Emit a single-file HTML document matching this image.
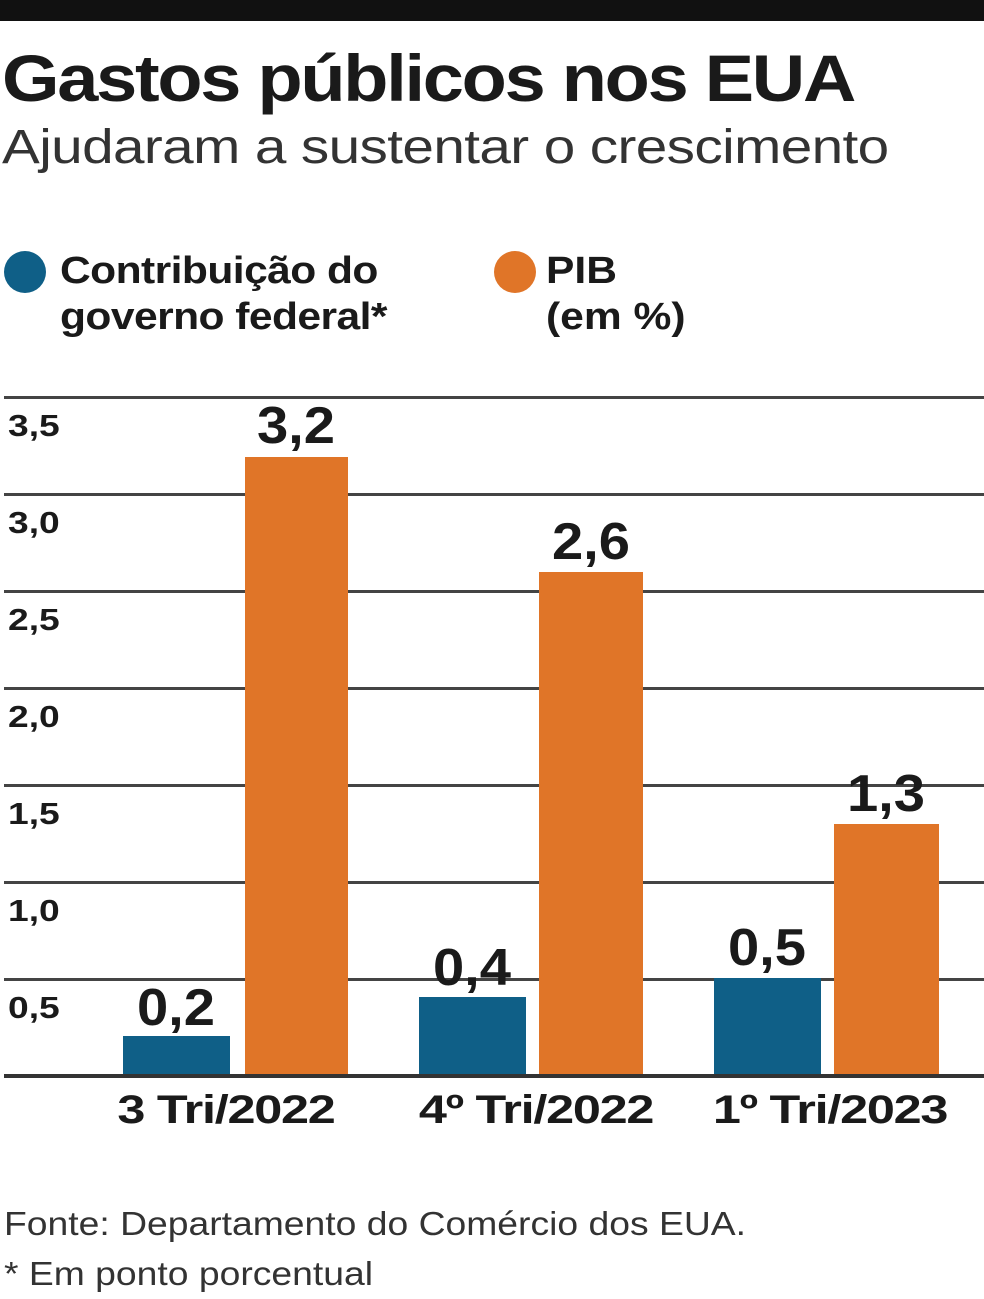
<!DOCTYPE html><html><head><meta charset="utf-8"><style>
body{margin:0;width:984px;height:1299px;background:#fff;position:relative;overflow:hidden;font-family:"Liberation Sans",sans-serif;color:#1a1a1a}
.a{position:absolute;white-space:nowrap}
.g{position:absolute;left:4px;width:980px;height:3px;background:#444}
.t{font-weight:bold;font-size:31px;left:8px;transform:scaleX(1.2);transform-origin:left}
.bar{position:absolute}
.b{background:#0f5f87}.o{background:#e07528}
.v{position:absolute;font-weight:bold;font-size:52px;text-align:center;width:140px;transform:scaleX(1.08)}
.x{position:absolute;font-weight:bold;font-size:40px;top:1088px;text-align:center;width:300px;letter-spacing:-1px;transform:scaleX(1.26)}
</style></head><body>
<div class="a" style="left:0;top:0;width:984px;height:21px;background:#111"></div>
<div class="a" style="left:2px;top:40px;font-size:66px;font-weight:bold;letter-spacing:-2px;transform:scaleX(1.12);transform-origin:left">Gastos públicos nos EUA</div>
<div class="a" style="left:2px;top:120px;font-size:48px;color:#333;letter-spacing:-0.5px;transform:scaleX(1.18);transform-origin:left">Ajudaram a sustentar o crescimento</div>
<div class="a" style="left:4px;top:251px;width:42px;height:42px;border-radius:50%;background:#0f5f87"></div>
<div class="a" style="left:60px;top:248px;font-size:38px;font-weight:bold;line-height:46px;letter-spacing:-0.5px;transform:scaleX(1.12);transform-origin:left">Contribuição do<br>governo federal*</div>
<div class="a" style="left:494px;top:251px;width:42px;height:42px;border-radius:50%;background:#e07528"></div>
<div class="a" style="left:546px;top:248px;font-size:38px;font-weight:bold;line-height:46px;transform:scaleX(1.12);transform-origin:left">PIB<br>(em %)</div>
<div class="g" style="top:396px"></div><div class="g" style="top:493px"></div><div class="g" style="top:590px"></div><div class="g" style="top:687px"></div><div class="g" style="top:784px"></div><div class="g" style="top:881px"></div><div class="g" style="top:978px"></div>
<div class="a t" style="top:408px">3,5</div><div class="a t" style="top:505px">3,0</div><div class="a t" style="top:602px">2,5</div><div class="a t" style="top:699px">2,0</div><div class="a t" style="top:796px">1,5</div><div class="a t" style="top:893px">1,0</div><div class="a t" style="top:990px">0,5</div>
<div class="bar b" style="left:123px;top:1036px;width:107px;height:40px"></div>
<div class="bar o" style="left:245px;top:457px;width:103px;height:619px"></div>
<div class="bar b" style="left:419px;top:997px;width:107px;height:79px"></div>
<div class="bar o" style="left:539px;top:572px;width:104px;height:504px"></div>
<div class="bar b" style="left:714px;top:978px;width:107px;height:98px"></div>
<div class="bar o" style="left:834px;top:824px;width:105px;height:252px"></div>
<div class="a" style="left:4px;top:1074px;width:980px;height:4px;background:#333"></div>
<div class="v" style="left:106px;top:978px">0,2</div>
<div class="v" style="left:226px;top:396px">3,2</div>
<div class="v" style="left:402px;top:938px">0,4</div>
<div class="v" style="left:521px;top:512px">2,6</div>
<div class="v" style="left:697px;top:918px">0,5</div>
<div class="v" style="left:816px;top:764px">1,3</div>
<div class="x" style="left:76px">3 Tri/2022</div>
<div class="x" style="left:386px">4º Tri/2022</div>
<div class="x" style="left:680px">1º Tri/2023</div>
<div class="a" style="left:4px;top:1205px;font-size:33px;color:#333;transform:scaleX(1.13);transform-origin:left">Fonte: Departamento do Comércio dos EUA.</div>
<div class="a" style="left:4px;top:1255px;font-size:33px;color:#333;transform:scaleX(1.13);transform-origin:left">* Em ponto porcentual</div>
</body></html>
